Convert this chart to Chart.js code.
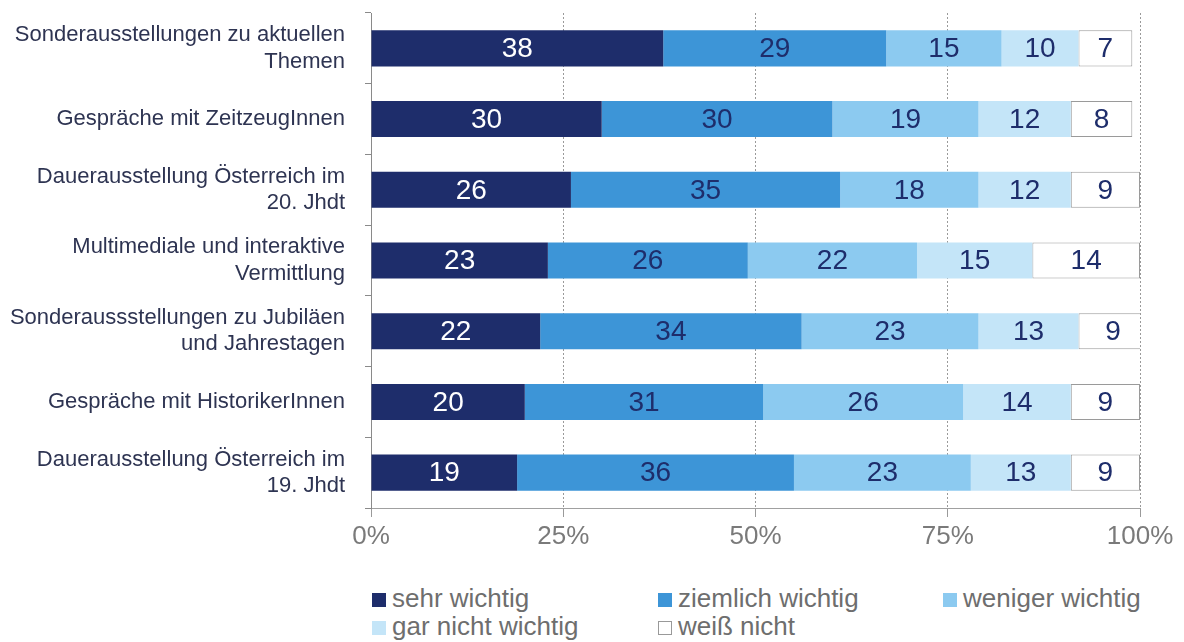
<!DOCTYPE html>
<html>
<head>
<meta charset="utf-8">
<script src="https://cdn.jsdelivr.net/npm/chart.js@4/dist/chart.umd.min.js"></script>
<style>
  body { margin: 0; background: #fff; width: 1184px; height: 642px; overflow: hidden; position: relative; }
  #wrap { position: absolute; left: 0; top: 0; width: 1184px; height: 570px; }
  .leg-box { position: absolute; width: 14px; height: 14px; box-sizing: border-box; }
  .leg-text { position: absolute; font-family: "Liberation Sans", Arial, sans-serif; font-size: 26px; line-height: 28px; color: #6e6e6e; white-space: nowrap; }
</style>
</head>
<body>
<div id="wrap"><canvas id="chart"></canvas></div>
<div id="legend"></div>
<script>
const categories = [
  ["Sonderausstellungen zu aktuellen", "Themen"],
  "Gespräche mit ZeitzeugInnen",
  ["Dauerausstellung Österreich im", "20. Jhdt"],
  ["Multimediale und interaktive", "Vermittlung"],
  ["Sonderaussstellungen zu Jubiläen", "und Jahrestagen"],
  "Gespräche mit HistorikerInnen",
  ["Dauerausstellung Österreich im", "19. Jhdt"],
];
const seriesNames = ["sehr wichtig", "ziemlich wichtig", "weniger wichtig", "gar nicht wichtig", "weiß nicht"];
const sehrWichtig     = [38, 30, 26, 23, 22, 20, 19];
const ziemlichWichtig = [29, 30, 35, 26, 34, 31, 36];
const wenigerWichtig  = [15, 19, 18, 22, 23, 26, 23];
const garNichtWichtig = [10, 12, 12, 15, 13, 14, 13];
const weissNicht      = [7, 8, 9, 14, 9, 9, 9];
const xTicks = [0, 25, 50, 75, 100];

const colors = ["#1e2d6b", "#3d95d7", "#8ccaf0", "#c4e5f8", "#ffffff"];
const labelColors = ["#ffffff", "#1e2d6b", "#1e2d6b", "#1e2d6b", "#1e2d6b"];
const allSeries = [sehrWichtig, ziemlichWichtig, wenigerWichtig, garNichtWichtig, weissNicht];

// numbers in the middle of each segment
const valueLabels = {
  id: "valueLabels",
  afterDatasetsDraw(chart) {
    const ctx = chart.ctx;
    ctx.save();
    ctx.font = '28px "Liberation Sans", Arial, sans-serif';
    ctx.textAlign = "center";
    ctx.textBaseline = "middle";
    chart.data.datasets.forEach((ds, i) => {
      chart.getDatasetMeta(i).data.forEach((bar, j) => {
        ctx.fillStyle = labelColors[i];
        ctx.fillText(ds.data[j], (bar.x + bar.base) / 2, bar.y + 1);
      });
    });
    ctx.restore();
  }
};

const canvas = document.getElementById("chart");
canvas.width = 1184;
canvas.height = 570;

new Chart(canvas.getContext("2d"), {
  type: "bar",
  data: {
    labels: categories,
    datasets: allSeries.map((d, i) => ({
      label: seriesNames[i],
      data: d,
      backgroundColor: colors[i],
      borderColor: i === 4 ? "#9a9a9a" : colors[i],
      borderWidth: i === 4 ? 1 : 0,
      borderSkipped: false,
      barPercentage: 0.51,
      categoryPercentage: 1,
    })),
  },
  options: {
    indexAxis: "y",
    responsive: false,
    animation: false,
    layout: { padding: { top: 13, right: 44, left: 0, bottom: 0 } },
    plugins: {
      legend: { display: false },
      tooltip: { enabled: false },
    },
    scales: {
      x: {
        stacked: true,
        min: 0,
        max: 100,
        afterFit: (scale) => { scale.height = 62; scale.paddingLeft = 0; scale.paddingRight = 0; },
        afterBuildTicks: (scale) => { scale.ticks = xTicks.map((v) => ({ value: v })); },
        grid: {
          color: "#9a9a9a",
          lineWidth: 1,
          borderDash: [4, 3],
          tickLength: 9,
          tickBorderDash: [],
          tickColor: "#9a9a9a",
        },
        border: { display: true, color: "#a0a0a0", dash: [2, 2] },
        ticks: {
          padding: 4,
          color: "#7a7a7a",
          font: { family: '"Liberation Sans", Arial, sans-serif', size: 26 },
          callback: (v) => v + "%",
        },
      },
      y: {
        stacked: true,
        afterFit: (scale) => { scale.width = 371; scale.paddingTop = 0; scale.paddingBottom = 0; },
        grid: {
          drawOnChartArea: false,
          offset: true,
          tickLength: 6,
          color: "#8a8a8a",
        },
        border: { display: true, color: "#8a8a8a" },
        ticks: {
          padding: 20,
          color: "#2e3452",
          font: { family: '"Liberation Sans", Arial, sans-serif', size: 22 },
        },
      },
    },
  },
  plugins: [valueLabels],
});

// legend: three columns, two rows, like the original
const legendPos = [[372, 584], [658, 584], [943, 584], [372, 612], [658, 612]];
const legend = document.getElementById("legend");
seriesNames.forEach((name, i) => {
  const box = document.createElement("div");
  box.className = "leg-box";
  box.style.left = legendPos[i][0] + "px";
  box.style.top = (legendPos[i][1] + 9) + "px";
  box.style.background = colors[i];
  if (i === 4) box.style.border = "1px solid #999";
  legend.appendChild(box);
  const txt = document.createElement("div");
  txt.className = "leg-text";
  txt.style.left = (legendPos[i][0] + 20) + "px";
  txt.style.top = legendPos[i][1] + "px";
  txt.textContent = name;
  legend.appendChild(txt);
});
</script>
</body>
</html>
